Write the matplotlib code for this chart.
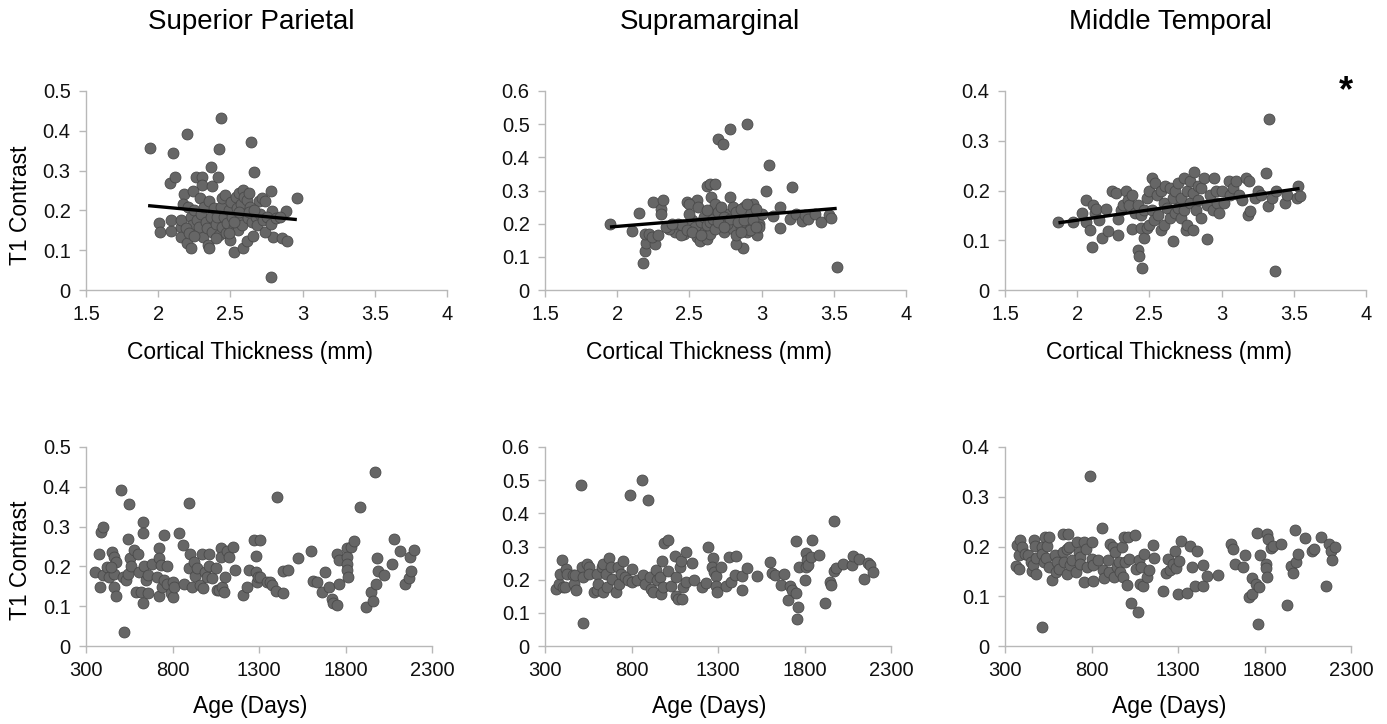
import numpy as np
import matplotlib
matplotlib.use('Agg')
from matplotlib import pyplot as plt

plt.rcParams['font.family'] = ['Liberation Sans', 'DejaVu Sans']

regions = ['Superior Parietal', 'Supramarginal', 'Middle Temporal']
ymax = [0.5, 0.6, 0.4]

# --- cortical thickness vs T1 contrast ---
sp_thick = [
    (1.94, 0.358), (2.196, 0.391), (2.10, 0.344), (2.433, 0.433), (2.424, 0.355), (2.645, 0.372),
    (2.08, 0.268), (2.115, 0.283), (2.26, 0.284), (2.306, 0.283), (2.306, 0.265), (2.364, 0.309),
    (2.371, 0.262), (2.415, 0.283), (2.664, 0.297), (2.779, 0.249), (2.963, 0.23), (2.007, 0.169),
    (2.011, 0.146), (2.088, 0.148), (2.092, 0.176), (2.157, 0.159), (2.157, 0.134), (2.18, 0.241),
    (2.196, 0.117), (2.23, 0.105), (2.242, 0.249), (2.288, 0.232), (2.311, 0.134), (2.346, 0.113),
    (2.353, 0.105), (2.525, 0.096), (2.59, 0.106), (2.613, 0.123), (2.657, 0.136), (2.779, 0.032),
    (2.797, 0.134), (2.86, 0.131), (2.889, 0.123), (2.882, 0.198), (2.79, 0.198), (2.698, 0.223),
    (2.72, 0.232), (2.742, 0.224), (2.157, 0.177), (2.175, 0.217), (2.203, 0.209), (2.226, 0.184),
    (2.237, 0.163), (2.249, 0.2), (2.272, 0.176), (2.283, 0.159), (2.295, 0.192), (2.318, 0.209),
    (2.329, 0.171), (2.341, 0.155), (2.353, 0.224), (2.364, 0.184), (2.375, 0.146), (2.387, 0.205),
    (2.399, 0.167), (2.41, 0.184), (2.422, 0.138), (2.433, 0.209), (2.44, 0.159), (2.445, 0.23),
    (2.456, 0.184), (2.461, 0.238), (2.468, 0.142), (2.479, 0.169), (2.491, 0.2), (2.498, 0.125),
    (2.502, 0.222), (2.514, 0.184), (2.525, 0.159), (2.537, 0.234), (2.544, 0.205), (2.553, 0.151),
    (2.56, 0.243), (2.567, 0.18), (2.576, 0.217), (2.583, 0.163), (2.59, 0.251), (2.594, 0.234),
    (2.606, 0.192), (2.613, 0.226), (2.622, 0.18), (2.629, 0.243), (2.636, 0.209), (2.652, 0.171),
    (2.675, 0.184), (2.687, 0.163), (2.705, 0.192), (2.728, 0.176), (2.737, 0.146), (2.756, 0.184),
    (2.779, 0.167), (2.813, 0.18), (2.843, 0.184), (2.191, 0.155), (2.214, 0.142), (2.249, 0.136),
    (2.399, 0.13), (2.491, 0.142), (2.525, 0.171), (2.56, 0.196), (2.629, 0.196), (2.664, 0.2),
]
sm_thick = [
    (1.95, 0.2), (2.1, 0.177), (2.15, 0.233), (2.18, 0.08), (2.19, 0.118), (2.2, 0.142), (2.19, 0.168),
    (2.25, 0.265), (2.3, 0.245), (2.3, 0.23), (2.32, 0.27), (2.26, 0.14), (2.22, 0.17), (2.24, 0.16),
    (2.28, 0.165), (2.62, 0.315), (2.64, 0.32), (2.68, 0.32), (2.7, 0.455), (2.73, 0.44), (2.78, 0.485),
    (2.9, 0.5), (3.05, 0.378), (3.03, 0.297), (3.21, 0.31), (3.13, 0.25), (3.13, 0.186), (3.08, 0.222),
    (3.2, 0.213), (3.24, 0.23), (3.28, 0.207), (3.3, 0.225), (3.32, 0.215), (3.37, 0.228), (3.41, 0.206),
    (3.47, 0.225), (3.48, 0.218), (3.52, 0.07), (2.87, 0.128), (2.82, 0.14), (2.78, 0.28), (2.55, 0.27),
    (2.48, 0.265), (2.5, 0.258), (2.46, 0.17), (2.4, 0.175), (2.36, 0.185), (2.34, 0.19), (2.42, 0.2),
    (2.44, 0.165), (2.55, 0.16), (2.57, 0.148), (2.62, 0.155), (2.6, 0.175), (2.64, 0.17), (2.66, 0.24),
    (2.65, 0.28), (2.68, 0.26), (2.7, 0.19), (2.72, 0.21), (2.74, 0.175), (2.76, 0.23), (2.78, 0.2),
    (2.8, 0.25), (2.8, 0.185), (2.82, 0.165), (2.84, 0.22), (2.86, 0.19), (2.88, 0.25), (2.9, 0.175),
    (2.9, 0.215), (2.92, 0.24), (2.93, 0.195), (2.94, 0.26), (2.96, 0.22), (2.97, 0.165), (2.98, 0.2),
    (3.0, 0.23), (2.52, 0.21), (2.5, 0.23), (2.54, 0.19), (2.56, 0.25), (2.58, 0.205), (2.6, 0.22),
    (2.62, 0.195), (2.64, 0.205), (2.66, 0.215), (2.68, 0.185), (2.7, 0.235), (2.72, 0.25), (2.74, 0.22),
    (2.76, 0.2), (2.78, 0.215), (2.82, 0.235), (2.84, 0.205), (2.86, 0.245), (2.88, 0.21), (2.9, 0.26),
    (2.92, 0.18), (2.94, 0.21), (2.96, 0.245), (2.98, 0.19), (2.45, 0.195), (2.48, 0.18), (2.38, 0.2),
    (2.52, 0.175), (2.58, 0.165), (2.62, 0.24), (2.7, 0.205), (2.74, 0.19), (2.86, 0.175), (2.96, 0.19),
]
mt_thick = [
    (1.87, 0.137), (1.97, 0.137), (2.03, 0.155), (2.06, 0.18), (2.06, 0.137), (2.09, 0.12), (2.1, 0.087),
    (2.11, 0.17), (2.12, 0.155), (2.13, 0.163), (2.15, 0.14), (2.17, 0.105), (2.2, 0.163), (2.21, 0.118),
    (2.24, 0.2), (2.27, 0.195), (2.28, 0.11), (2.28, 0.143), (2.3, 0.16), (2.32, 0.17), (2.34, 0.2),
    (2.35, 0.18), (2.36, 0.17), (2.38, 0.19), (2.38, 0.123), (2.4, 0.155), (2.42, 0.17), (2.42, 0.08),
    (2.43, 0.068), (2.44, 0.124), (2.45, 0.045), (2.46, 0.105), (2.44, 0.15), (2.46, 0.16), (2.48, 0.185),
    (2.48, 0.125), (2.5, 0.2), (2.5, 0.13), (2.52, 0.225), (2.52, 0.16), (2.53, 0.14), (2.54, 0.215),
    (2.55, 0.19), (2.56, 0.15), (2.58, 0.2), (2.58, 0.12), (2.6, 0.175), (2.6, 0.13), (2.61, 0.21),
    (2.62, 0.165), (2.64, 0.205), (2.64, 0.145), (2.66, 0.185), (2.66, 0.098), (2.68, 0.155), (2.68, 0.2),
    (2.7, 0.215), (2.7, 0.165), (2.72, 0.185), (2.72, 0.145), (2.74, 0.225), (2.74, 0.16), (2.75, 0.12),
    (2.76, 0.2), (2.76, 0.13), (2.78, 0.22), (2.78, 0.175), (2.8, 0.195), (2.8, 0.12), (2.81, 0.238),
    (2.82, 0.16), (2.84, 0.21), (2.84, 0.18), (2.86, 0.145), (2.86, 0.205), (2.88, 0.225), (2.9, 0.103),
    (2.9, 0.17), (2.92, 0.19), (2.94, 0.16), (2.95, 0.225), (2.96, 0.2), (2.97, 0.175), (2.98, 0.155),
    (3.0, 0.2), (3.02, 0.175), (3.05, 0.22), (3.06, 0.19), (3.08, 0.205), (3.1, 0.22), (3.12, 0.19),
    (3.14, 0.18), (3.17, 0.225), (3.18, 0.15), (3.19, 0.22), (3.2, 0.158), (3.23, 0.185), (3.25, 0.2),
    (3.27, 0.19), (3.31, 0.235), (3.32, 0.168), (3.33, 0.343), (3.35, 0.185), (3.37, 0.038), (3.38, 0.2),
    (3.44, 0.175), (3.45, 0.19), (3.52, 0.185), (3.53, 0.21), (3.54, 0.188),
]

# fitted trend lines (end points)
fit_x = [(1.93, 2.96), (1.95, 3.52), (1.87, 3.54)]
fit_y = [(0.212, 0.177), (0.19, 0.246), (0.135, 0.204)]

# --- age vs T1 contrast ---
sp_age = [
    (352, 0.185), (377, 0.232), (383, 0.149), (387, 0.287), (398, 0.298), (396, 0.178), (421, 0.199),
    (431, 0.174), (450, 0.235), (463, 0.224), (473, 0.21), (463, 0.182), (463, 0.149), (475, 0.125),
    (444, 0.199), (502, 0.391), (550, 0.356), (517, 0.034), (540, 0.27), (511, 0.174), (531, 0.166),
    (540, 0.182), (556, 0.22), (563, 0.201), (575, 0.241), (588, 0.135), (598, 0.232), (607, 0.186),
    (617, 0.136), (627, 0.312), (631, 0.284), (627, 0.107), (638, 0.201), (646, 0.166), (656, 0.134),
    (660, 0.178), (679, 0.207), (713, 0.174), (723, 0.245), (723, 0.22), (721, 0.125), (733, 0.203),
    (742, 0.149), (752, 0.278), (752, 0.166), (767, 0.201), (771, 0.157), (790, 0.132), (800, 0.161),
    (804, 0.124), (810, 0.149), (838, 0.283), (858, 0.253), (867, 0.157), (896, 0.36), (902, 0.232),
    (896, 0.195), (910, 0.149), (925, 0.212), (929, 0.176), (944, 0.195), (960, 0.153), (973, 0.232),
    (977, 0.145), (987, 0.186), (1002, 0.174), (1011, 0.232), (1011, 0.201), (1031, 0.17), (1050, 0.195),
    (1056, 0.14), (1069, 0.14), (1079, 0.247), (1079, 0.224), (1088, 0.149), (1098, 0.135), (1104, 0.174),
    (1113, 0.238), (1127, 0.224), (1150, 0.249), (1160, 0.191), (1208, 0.128), (1233, 0.149), (1242, 0.191),
    (1270, 0.266), (1282, 0.227), (1282, 0.186), (1286, 0.161), (1296, 0.174), (1308, 0.266), (1305, 0.174),
    (1348, 0.161), (1363, 0.161), (1377, 0.153), (1402, 0.375), (1396, 0.139), (1440, 0.134), (1440, 0.188),
    (1467, 0.191), (1527, 0.222), (1602, 0.239), (1611, 0.163), (1633, 0.161), (1667, 0.135), (1681, 0.185),
    (1706, 0.149), (1723, 0.118), (1727, 0.107), (1752, 0.103), (1752, 0.232), (1761, 0.216), (1761, 0.156),
    (1806, 0.245), (1810, 0.224), (1810, 0.207), (1810, 0.191), (1813, 0.174), (1829, 0.249), (1848, 0.263),
    (1886, 0.348), (1921, 0.097), (1948, 0.136), (1960, 0.114), (1973, 0.436), (1979, 0.157), (1983, 0.222),
    (1987, 0.189), (2025, 0.178), (2069, 0.206), (2079, 0.268), (2117, 0.238), (2146, 0.156), (2165, 0.171),
    (2175, 0.224), (2181, 0.189), (2194, 0.241),
]
sm_age = [
    (363, 0.171), (383, 0.188), (387, 0.218), (400, 0.258), (406, 0.178), (421, 0.233), (429, 0.218),
    (417, 0.178), (463, 0.213), (467, 0.188), (473, 0.213), (479, 0.168), (506, 0.486), (517, 0.07),
    (511, 0.238), (517, 0.208), (540, 0.246), (554, 0.238), (554, 0.218), (581, 0.163), (600, 0.168),
    (598, 0.218), (607, 0.188), (627, 0.238), (636, 0.248), (636, 0.163), (652, 0.218), (660, 0.178),
    (669, 0.265), (679, 0.238), (685, 0.203), (713, 0.163), (723, 0.238), (729, 0.188), (738, 0.218),
    (752, 0.255), (762, 0.208), (781, 0.198), (790, 0.455), (800, 0.233), (800, 0.193), (829, 0.2),
    (858, 0.501), (867, 0.213), (877, 0.188), (896, 0.441), (906, 0.208), (915, 0.173), (925, 0.163),
    (940, 0.228), (946, 0.198), (963, 0.208), (979, 0.255), (973, 0.156), (983, 0.178), (987, 0.31),
    (1010, 0.321), (1011, 0.225), (1031, 0.18), (1050, 0.27), (1056, 0.15), (1060, 0.208), (1069, 0.143),
    (1079, 0.238), (1088, 0.255), (1094, 0.143), (1098, 0.178), (1113, 0.283), (1117, 0.193), (1150, 0.251),
    (1160, 0.2), (1208, 0.178), (1233, 0.191), (1242, 0.298), (1271, 0.265), (1267, 0.238), (1279, 0.223),
    (1290, 0.21), (1290, 0.18), (1296, 0.163), (1315, 0.238), (1348, 0.18), (1363, 0.268), (1377, 0.193),
    (1396, 0.213), (1406, 0.27), (1440, 0.17), (1440, 0.21), (1467, 0.235), (1527, 0.211), (1602, 0.253),
    (1611, 0.221), (1627, 0.213), (1667, 0.185), (1681, 0.218), (1706, 0.14), (1719, 0.181), (1729, 0.168),
    (1752, 0.316), (1752, 0.161), (1761, 0.118), (1758, 0.08), (1767, 0.238), (1800, 0.198), (1810, 0.238),
    (1810, 0.28), (1813, 0.258), (1819, 0.243), (1844, 0.321), (1838, 0.268), (1886, 0.273), (1921, 0.13),
    (1948, 0.193), (1954, 0.183), (1969, 0.378), (1973, 0.226), (1983, 0.235), (2025, 0.246), (2073, 0.243),
    (2079, 0.27), (2117, 0.263), (2146, 0.203), (2165, 0.25), (2179, 0.243), (2194, 0.223),
]
mt_age = [
    (362, 0.161), (383, 0.154), (371, 0.204), (387, 0.214), (381, 0.182), (400, 0.199), (416, 0.185),
    (435, 0.182), (450, 0.169), (458, 0.151), (464, 0.163), (470, 0.214), (474, 0.202), (480, 0.145),
    (477, 0.177), (513, 0.039), (512, 0.199), (516, 0.185), (526, 0.169), (532, 0.22), (538, 0.177),
    (545, 0.202), (553, 0.159), (556, 0.22), (570, 0.132), (590, 0.182), (594, 0.149), (599, 0.169),
    (615, 0.155), (634, 0.225), (638, 0.189), (643, 0.169), (657, 0.195), (661, 0.145), (663, 0.225),
    (671, 0.199), (677, 0.163), (687, 0.173), (712, 0.149), (715, 0.209), (725, 0.189), (731, 0.179),
    (735, 0.165), (754, 0.129), (754, 0.209), (767, 0.195), (773, 0.159), (793, 0.342), (802, 0.209),
    (802, 0.175), (808, 0.163), (811, 0.131), (840, 0.173), (859, 0.237), (866, 0.153), (870, 0.137),
    (893, 0.173), (899, 0.149), (909, 0.205), (925, 0.199), (928, 0.139), (937, 0.189), (947, 0.159),
    (957, 0.169), (963, 0.149), (976, 0.2), (982, 0.139), (986, 0.22), (996, 0.169), (1005, 0.123),
    (1009, 0.22), (1015, 0.175), (1028, 0.087), (1053, 0.223), (1059, 0.155), (1069, 0.069), (1073, 0.172),
    (1082, 0.124), (1086, 0.159), (1098, 0.12), (1106, 0.184), (1119, 0.139), (1132, 0.152), (1154, 0.203),
    (1164, 0.177), (1212, 0.111), (1233, 0.147), (1243, 0.175), (1256, 0.153), (1272, 0.164), (1285, 0.19),
    (1291, 0.157), (1299, 0.105), (1305, 0.171), (1318, 0.211), (1353, 0.107), (1372, 0.201), (1382, 0.159),
    (1401, 0.12), (1407, 0.191), (1446, 0.163), (1446, 0.12), (1469, 0.141), (1533, 0.142), (1604, 0.205),
    (1618, 0.194), (1629, 0.164), (1674, 0.159), (1688, 0.182), (1711, 0.099), (1730, 0.105), (1726, 0.137),
    (1749, 0.125), (1755, 0.227), (1764, 0.045), (1768, 0.119), (1772, 0.183), (1807, 0.164), (1811, 0.157),
    (1813, 0.139), (1817, 0.225), (1821, 0.215), (1836, 0.197), (1852, 0.201), (1894, 0.205), (1929, 0.082),
    (1952, 0.161), (1962, 0.147), (1977, 0.234), (1981, 0.169), (1991, 0.184), (2034, 0.217), (2074, 0.19),
    (2088, 0.194), (2126, 0.219), (2155, 0.121), (2175, 0.205), (2184, 0.19), (2188, 0.173), (2209, 0.2),
]

thick_data = [sp_thick, sm_thick, mt_thick]
age_data = [sp_age, sm_age, mt_age]

W, H = 1387, 724
SPINE = '#b8b8b8'
DOT = '#666666'


def style_axes(ax):
    for s in ('top', 'right'):
        ax.spines[s].set_visible(False)
    for s in ('left', 'bottom'):
        ax.spines[s].set_color(SPINE)
        ax.spines[s].set_linewidth(1.0)
    ax.tick_params(direction='out', length=5, width=1.0, color=SPINE,
                   labelsize=14.5, labelcolor='#111111')
    ax.tick_params(axis='x', pad=6)
    ax.tick_params(axis='y', pad=6)


def add_ax(left, right, top, bottom):
    return fig.add_axes([left / W, 1 - bottom / H, (right - left) / W, (bottom - top) / H])


def ylabels(top):
    vals = np.round(np.arange(0, top + 0.01, 0.1), 1)
    return vals, ['0'] + ['%.1f' % v for v in vals[1:]]


fig = plt.figure(figsize=(W / 100, H / 100), dpi=100)

top_lefts = [86, 545, 1005]
for i in range(3):
    l = top_lefts[i]
    # top row: T1 contrast vs cortical thickness
    ax = add_ax(l, l + 361, 91, 290)
    style_axes(ax)
    pts = np.array(thick_data[i])
    ax.scatter(pts[:, 0], pts[:, 1], s=62, c=DOT, edgecolors='#4a4a4a', linewidths=0.6, zorder=2)
    ax.plot(fit_x[i], fit_y[i], c='k', lw=2.4, zorder=3, solid_capstyle='butt')
    ax.set_xlim(1.5, 4)
    ax.set_ylim(0, ymax[i])
    ax.set_xticks([1.5, 2, 2.5, 3, 3.5, 4])
    ax.set_xticklabels(['1.5', '2', '2.5', '3', '3.5', '4'])
    yv, yl = ylabels(ymax[i])
    ax.set_yticks(yv)
    ax.set_yticklabels(yl)
    fig.text((l + 164) / W, 1 - 352 / H, 'Cortical Thickness (mm)', fontsize=16.5,
             ha='center', va='center')

    # bottom row: T1 contrast vs age
    ax2 = add_ax(l, l + 346, 447, 646)
    style_axes(ax2)
    pts = np.array(age_data[i])
    ax2.scatter(pts[:, 0], pts[:, 1], s=62, c=DOT, edgecolors='#4a4a4a', linewidths=0.6, zorder=2)
    ax2.set_xlim(300, 2300)
    ax2.set_ylim(0, ymax[i])
    ax2.set_xticks([300, 800, 1300, 1800, 2300])
    ax2.set_yticks(yv)
    ax2.set_yticklabels(yl)
    fig.text((l + 164) / W, 1 - 707 / H, 'Age (Days)', fontsize=16.5, ha='center', va='center')

    fig.text((l + 165) / W, 1 - 22 / H, regions[i], fontsize=20, ha='center', va='center')

fig.text(21 / W, 1 - 205 / H, 'T1 Contrast', fontsize=16.5, rotation=90, ha='center', va='center')
fig.text(21 / W, 1 - 560 / H, 'T1 Contrast', fontsize=16.5, rotation=90, ha='center', va='center')
fig.text(1346 / W, 1 - 92 / H, '*', fontsize=26, fontweight='bold', ha='center', va='center')

fig.savefig('out.png', dpi=100)
